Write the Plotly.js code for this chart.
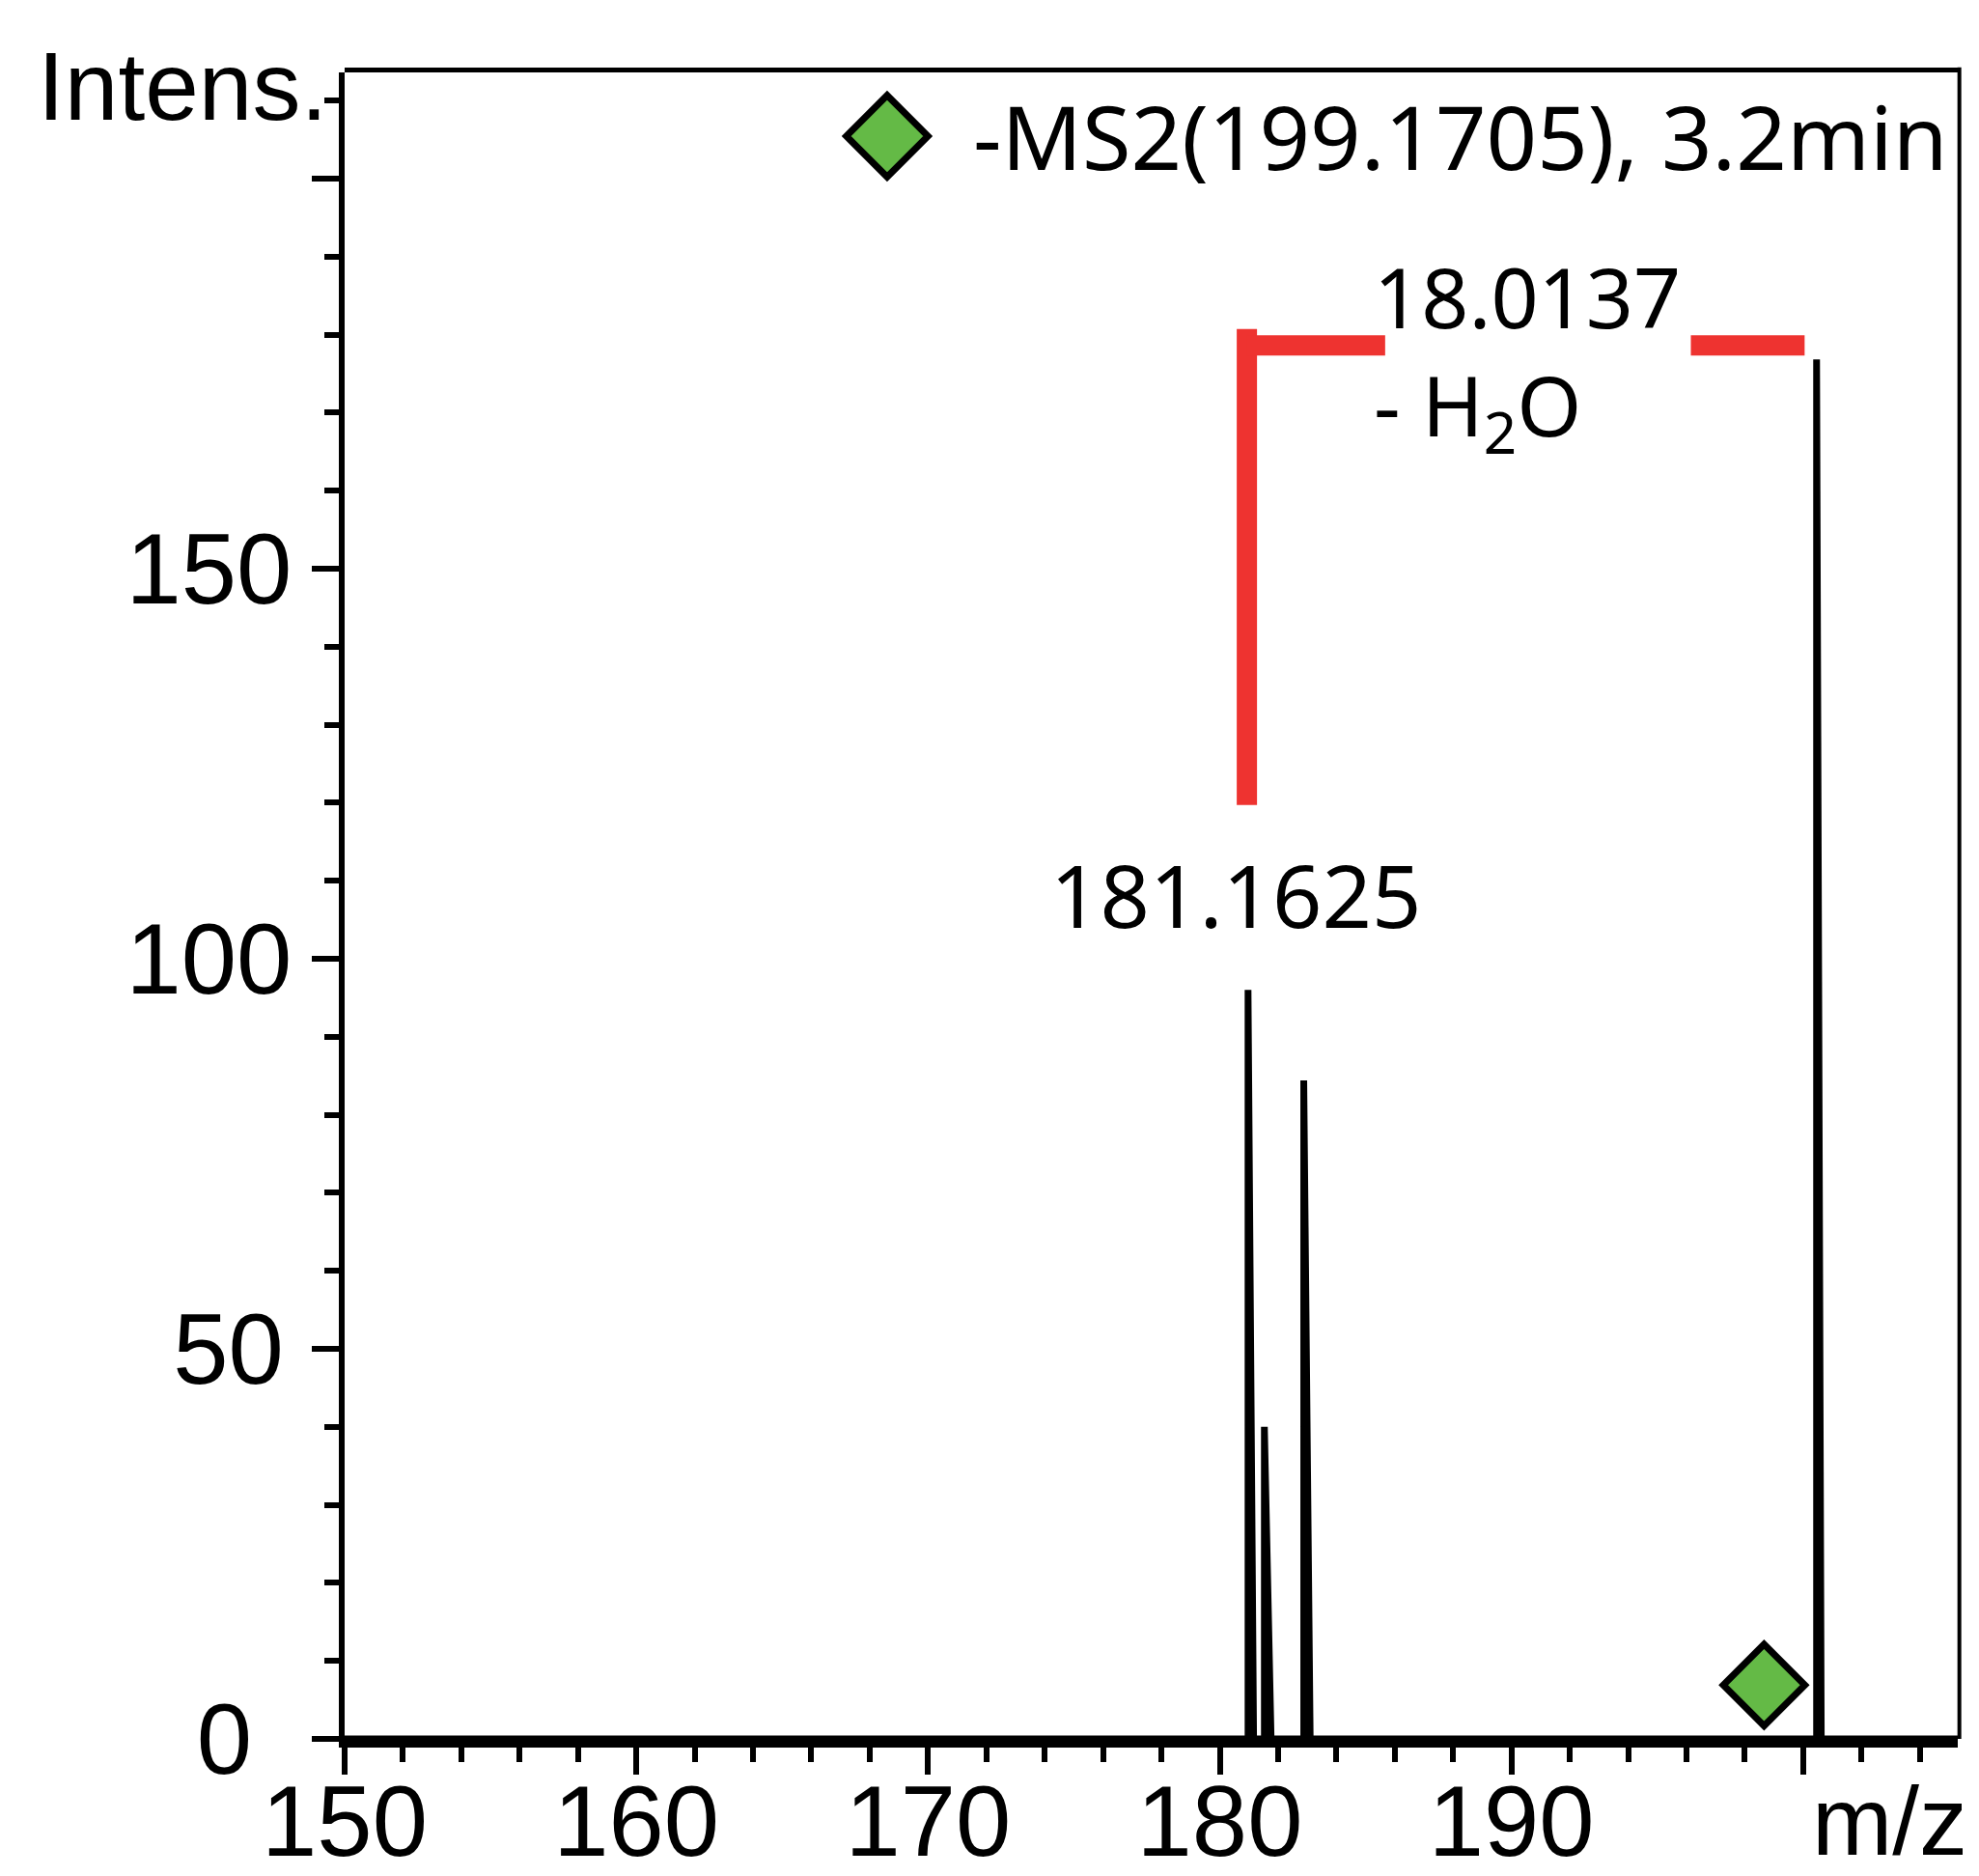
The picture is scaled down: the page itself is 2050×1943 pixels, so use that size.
<!DOCTYPE html>
<html>
<head>
<meta charset="utf-8">
<script src="https://cdn.plot.ly/plotly-3.0.1.min.js"></script>
<style>
  html, body { margin: 0; padding: 0; background: #ffffff; }
  #chart { width: 2050px; height: 1943px; }
</style>
</head>
<body>
<div id="chart"></div>
<script>
// ---- data ----
// profile of the MS2 spectrum (m/z, intensity)
const mz        = [150, 180.97, 180.97, 181.16, 181.53, 181.53, 181.76, 182.88, 182.88, 183.10, 200.46, 200.46, 200.62, 205.3];
const intensity = [0,   0,      96,     0,      0,      40,     0,      0,      84.4,   0,      0,      176.8,  0,      0];

// precursor marker
const precursorMz = [198.66];
const precursorIntensity = [6.9];

// neutral-loss bracket (-H2O)
const lossBracketX = [180.93, 185.67, 196.15, 200.05]; // vertical bar x, end of left arm, start of right arm, end of right arm
const lossBracketY = [119.7, 180.7, 178.6];            // vertical bar bottom, vertical bar top, arm level

// labels
const peakLabel = "181.1625";
const peakLabelPos = [180.55, 108.3];
const lossLabel = "18.0137<br>- H<sub>2</sub>O";
const lossLabelPos = [185.2, 177.3];
const legendText = "-MS2(199.1705), 3.2min";

// axis ticks
const xRange = [150, 205.3];
const yRange = [0, 213.6];
const xTickVals = [150, 160, 170, 180, 190, 200];
const xTickText = ["150", "160", "170", "180", "190", ""];
const yTickVals = [0, 50, 100, 150, 200];
const yTickText = ["0\u2009\u2009", "50\u200A", "100", "150", ""];

// ---- styles ----
const RED = "#EE3330";
const GREEN = "#64BA46";
const axisFont = { family: "Liberation Sans, Arial, sans-serif", size: 103, color: "#000" };
const textFont = "Noto Sans, Open Sans, sans-serif";

const traces = [
  {
    x: mz, y: intensity, type: "scatter", mode: "lines",
    line: { color: "#000", width: 7 }, hoverinfo: "skip"
  },
  {
    x: precursorMz, y: precursorIntensity, type: "scatter", mode: "markers",
    marker: { symbol: "diamond", size: 65, color: GREEN, line: { color: "#000", width: 7 } },
    cliponaxis: false, hoverinfo: "skip"
  },
  {
    // legend symbol, drawn on an overlay paper-like axis
    x: [0.3363], y: [0.9618], xaxis: "x2", yaxis: "y2", type: "scatter", mode: "markers",
    marker: { symbol: "diamond", size: 65, color: GREEN, line: { color: "#000", width: 7 } },
    cliponaxis: false, hoverinfo: "skip"
  }
];

const shapes = [
  // vertical bar of bracket
  { type: "line", xref: "x", yref: "y", x0: lossBracketX[0], x1: lossBracketX[0], y0: lossBracketY[0], y1: lossBracketY[1],
    line: { color: RED, width: 21 } },
  // left arm
  { type: "line", xref: "x", yref: "y", x0: lossBracketX[0], x1: lossBracketX[1], y0: lossBracketY[2], y1: lossBracketY[2],
    line: { color: RED, width: 21 } },
  // right arm
  { type: "line", xref: "x", yref: "y", x0: lossBracketX[2], x1: lossBracketX[3], y0: lossBracketY[2], y1: lossBracketY[2],
    line: { color: RED, width: 21 } },
  // frame: top and right borders
  { type: "line", xref: "paper", yref: "paper", x0: 0, x1: 1.001, y0: 1.0015, y1: 1.0015, line: { color: "#000", width: 5 } },
  { type: "line", xref: "paper", yref: "paper", x0: 1.001, x1: 1.001, y0: 0, y1: 1.003, line: { color: "#000", width: 4 } }
];

const annotations = [
  { xref: "x", yref: "y", x: peakLabelPos[0], y: peakLabelPos[1], text: peakLabel, showarrow: false,
    xanchor: "center", yanchor: "middle", font: { family: textFont, size: 90, color: "#000" } },
  { xref: "x", yref: "y", x: lossLabelPos[0], y: lossLabelPos[1], text: lossLabel, showarrow: false,
    xanchor: "left", yanchor: "middle", align: "left", font: { family: textFont, size: 86, color: "#000" } },
  { xref: "paper", yref: "paper", x: 0.995, y: 0.962, text: legendText, showarrow: false,
    xanchor: "right", yanchor: "middle", font: { family: textFont, size: 92, color: "#000" } },
  { xref: "paper", yref: "paper", x: -0.1915, y: 0.9919, text: "Intens.", showarrow: false,
    xanchor: "left", yanchor: "middle", font: { family: "Liberation Sans, Arial, sans-serif", size: 100, color: "#000" } },
  { xref: "paper", yref: "paper", x: 1.0072, y: -0.049, text: "m/z", showarrow: false,
    xanchor: "right", yanchor: "middle", font: { family: "Liberation Sans, Arial, sans-serif", size: 100, color: "#000" } }
];

const layout = {
  width: 2050, height: 1943,
  margin: { l: 357, r: 22, t: 75, b: 142, pad: 0 },
  paper_bgcolor: "#fff", plot_bgcolor: "#fff",
  showlegend: false,
  xaxis: {
    range: xRange, tickmode: "array", tickvals: xTickVals, ticktext: xTickText,
    ticks: "outside", ticklen: 28, tickwidth: 6, tickcolor: "#000", ticklabelstandoff: -40,
    showline: true, linewidth: 9, linecolor: "#000", mirror: false,
    showgrid: false, zeroline: false, tickfont: axisFont, fixedrange: true,
    minor: { dtick: 2, tick0: 150, ticks: "outside", ticklen: 15, tickwidth: 6, tickcolor: "#000", showgrid: false }
  },
  yaxis: {
    range: yRange, tickmode: "array", tickvals: yTickVals, ticktext: yTickText,
    ticks: "outside", ticklen: 28, tickwidth: 6, tickcolor: "#000",
    showline: true, linewidth: 6, linecolor: "#000", mirror: false,
    showgrid: false, zeroline: false, tickfont: axisFont, fixedrange: true,
    minor: { dtick: 10, tick0: 0, ticks: "outside", ticklen: 15, tickwidth: 6, tickcolor: "#000", showgrid: false }
  },
  xaxis2: { overlaying: "x", range: [0, 1], visible: false, fixedrange: true },
  yaxis2: { overlaying: "y", range: [0, 1], visible: false, fixedrange: true },
  shapes: shapes,
  annotations: annotations
};

Plotly.newPlot("chart", traces, layout, { staticPlot: true, displayModeBar: false });
</script>
</body>
</html>
